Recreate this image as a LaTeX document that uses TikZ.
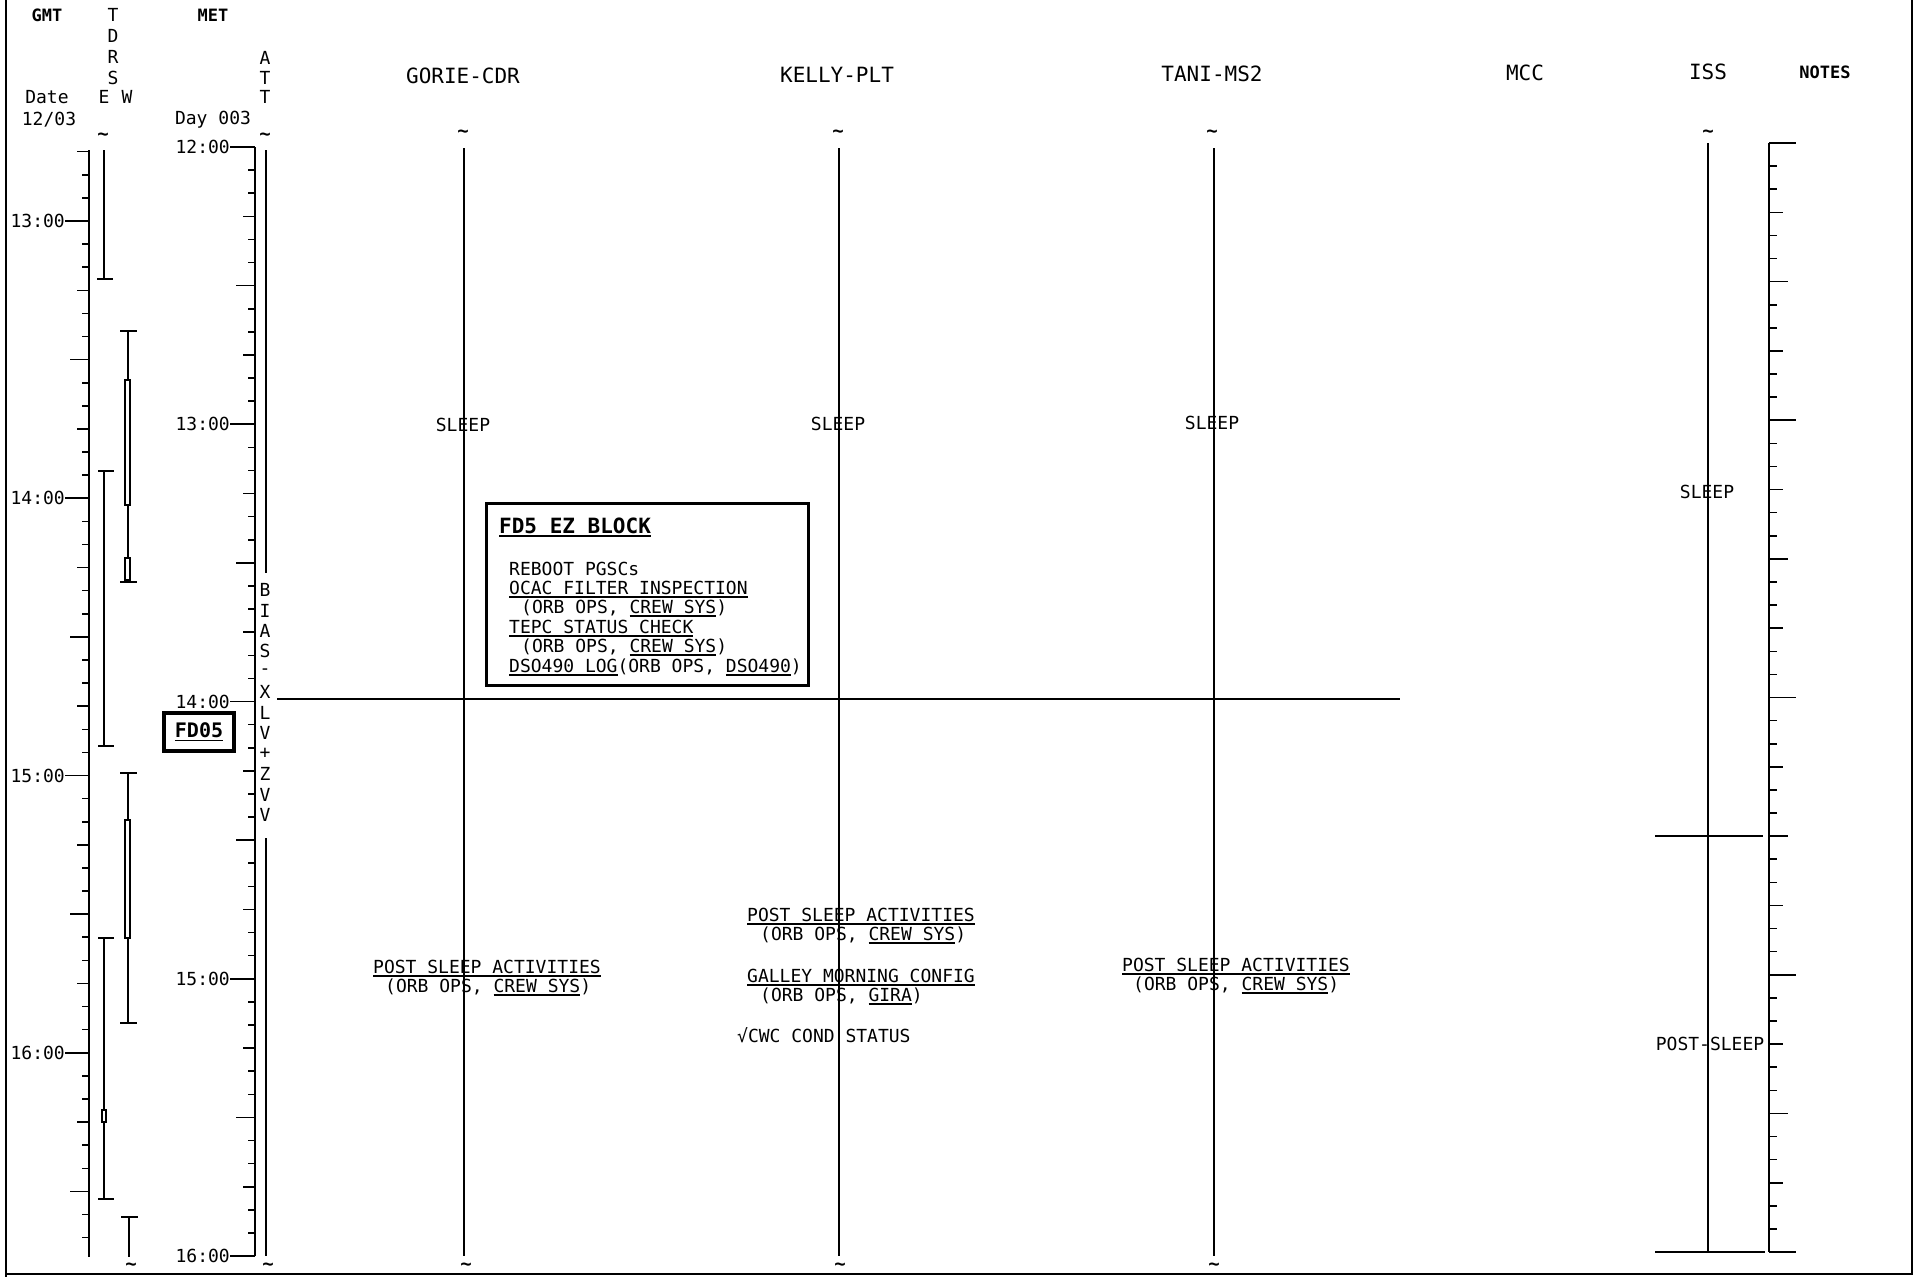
\documentclass[tikz,border=0pt]{standalone}
\usepackage{fontspec}
\setmainfont{DejaVu Sans Mono}
\newcommand\ulbar[1]{\leavevmode\setbox0=\hbox{#1}\rlap{\vrule width\wd0 height -2.2pt depth 4pt}\box0}
\begin{document}
\begin{tikzpicture}[x=1pt,y=-1pt,line cap=butt,line join=miter,
  txt/.style={inner sep=0pt,font=\fontsize{18}{19}\selectfont},
  txtl/.style={txt,anchor=base west},
  crewhd/.style={inner sep=0pt,font=\fontsize{21}{22}\selectfont},
  boldhd/.style={inner sep=0pt,font=\bfseries\fontsize{17}{18}\selectfont},
  tilde/.style={inner sep=0pt,font=\bfseries\fontsize{19}{19}\selectfont},
  axisline/.style={ink,line width=2.4pt},
  tickline/.style={ink,line width=1.6pt},
  crewline/.style={ink,line width=2pt},
  barline/.style={ink,line width=1.8pt}]

\definecolor{ink}{RGB}{0,0,0}

\path[use as bounding box] (0,0) rectangle (1915,1277);

% frame
\draw[ink,line width=2.5pt] (6,0) -- (6,1277);
\draw[ink,line width=2.5pt] (1912,0) -- (1912,1274) -- (6,1274);

% headers
\node[boldhd] (gmt) at (47,15) {GMT};
\node[boldhd] (met) at (213,15) {MET};
\node[boldhd] (notes) at (1825,72) {NOTES};
\node[txt] (date) at (47,97) {Date};
\node[txt] (dateval) at (49,120) {12/03};
\node[txt] (metday) at (213,120) {Day 003};
\foreach \c [count=\i] in {T,D,R,S} \node[txt] (tdrs\i) at (113,{15+21*(\i-1)}) {\c};
\node[txt] (tdrsE) at (104,97) {E};
\node[txt] (tdrsW) at (127,97) {W};
\foreach \c [count=\i] in {A,T,T} \node[txt] (att\i) at (265,{58+19.5*(\i-1)}) {\c};
\node[crewhd] (gorie) at (463,76) {GORIE-CDR};
\node[crewhd] (kelly) at (837,75) {KELLY-PLT};
\node[crewhd] (tani) at (1212,74) {TANI-MS2};
\node[crewhd] (mcc) at (1525,73) {MCC};
\node[crewhd] (iss) at (1708,72) {ISS};

% tildes
\foreach \x/\y [count=\i] in {103/137,265/137,463/134,838/134,1212/134,1708/134,
  131/1267,268/1267,466/1267,840/1267,1214/1267}
  \node[tilde] (tl\i) at (\x,\y) {\textasciitilde};

% GMT scale
\draw[axisline] (89,150) -- (89,1257);
\foreach \m in {-15,-10,...,220} \draw[tickline] (89,{221+4.621*\m}) -- +(-7,0);
\foreach \m in {-15,15,45,75,105,135,165,195} \draw[tickline] (89,{221+4.621*\m}) -- +(-12,0);
\foreach \m in {30,90,150,210} \draw[tickline] (89,{221+4.621*\m}) -- +(-19,0);
\foreach \h [count=\i from 0] in {13,14,15,16} {
  \draw[tickline] (89,{221+277.25*\i}) -- (65,{221+277.25*\i});
  \node[txt,anchor=east] (gmt\h) at (65,{221+277.25*\i}) {\h:00};
}

% TDRS coverage
\draw[barline] (104,150) -- (104,279) (97,279) -- (113,279);
\foreach \ya/\yb in {471/746,938/1199}
  \draw[barline] (104,\ya) -- (104,\yb) (98,\ya) -- (114,\ya) (98,\yb) -- (114,\yb);
\draw[barline,fill=white,line width=1.2pt] (102,1110) rectangle (106,1122);
\foreach \ya/\yb in {331/582,773/1023}
  \draw[barline] (128,\ya) -- (128,\yb) (120,\ya) -- (137,\ya) (120,\yb) -- (137,\yb);
\draw[barline] (129,1217) -- (129,1257) (121,1217) -- (138,1217);
\foreach \ya/\yb in {380/505,558/580,820/938}
  \draw[barline,fill=white,line width=1.2pt] (125,\ya) rectangle (130,\yb);

% MET scale
\draw[axisline] (255,147) -- (255,1256);
\foreach \m in {0,5,...,240} \draw[tickline] (255,{147+4.621*\m}) -- +(-7,0);
\foreach \m in {15,45,...,225} \draw[tickline] (255,{147+4.621*\m}) -- +(-12,0);
\foreach \m in {30,90,150,210} \draw[tickline] (255,{147+4.621*\m}) -- +(-19,0);
\foreach \h [count=\i from 0] in {12,13,14,15,16} {
  \draw[tickline] (255,{147+277.25*\i}) -- (230,{147+277.25*\i});
  \node[txt,anchor=east] (met\h) at (230,{147+277.25*\i}) {\h:00};
}

% attitude
\draw[crewline] (266,150) -- (266,573);
\draw[crewline] (266,838) -- (266,1256);
\foreach \c [count=\i] in {B,I,A,S,-,X,L,V,+,Z,V,V}
  \node[txt] (bias\i) at (265,{590+20.45*(\i-1)}) {\c};
\node[draw,ink,line width=4pt,inner sep=5pt,font=\bfseries\fontsize{20}{20}\selectfont,
  minimum width=70pt,minimum height=38pt] (fd05) at (199,732) {\ulbar{FD05}};

% crew timelines
\foreach \x in {464,839,1214} \draw[crewline] (\x,148) -- (\x,1256);
\draw[crewline] (277,699) -- (1400,699);
\node[txt] (gsleep) at (463,425) {SLEEP};
\node[txt] (ksleep) at (838,424) {SLEEP};
\node[txt] (tsleep) at (1212,423) {SLEEP};

% EZ block
\draw[ink,line width=3pt,fill=white] (486,503) rectangle (808,685);
\node[txtl,font=\bfseries\fontsize{21}{22}\selectfont] (ezhd) at (499,533) {\ulbar{FD5 EZ BLOCK}};
\node[txtl] (ez1) at (509,575) {REBOOT PGSCs};
\node[txtl] (ez2) at (509,594) {\ulbar{OCAC FILTER INSPECTION}};
\node[txtl] (ez3) at (521,613) {(ORB OPS, \ulbar{CREW SYS})};
\node[txtl] (ez4) at (509,633) {\ulbar{TEPC STATUS CHECK}};
\node[txtl] (ez5) at (521,652) {(ORB OPS, \ulbar{CREW SYS})};
\node[txtl] (ez6) at (509,672) {\ulbar{DSO490 LOG}(ORB OPS, \ulbar{DSO490})};

% post sleep
\node[txtl] (gpost) at (373,973) {\ulbar{POST SLEEP ACTIVITIES}};
\node[txtl] (gpostx) at (385,992) {(ORB OPS, \ulbar{CREW SYS})};
\node[txtl] (kpost) at (747,921) {\ulbar{POST SLEEP ACTIVITIES}};
\node[txtl] (kpostx) at (760,940) {(ORB OPS, \ulbar{CREW SYS})};
\node[txtl] (kgal) at (747,982) {\ulbar{GALLEY MORNING CONFIG}};
\node[txtl] (kgalx) at (760,1001) {(ORB OPS, \ulbar{GIRA})};
\node[txtl] (kcwc) at (737,1042) {√CWC COND STATUS};
\node[txtl] (tpost) at (1122,971) {\ulbar{POST SLEEP ACTIVITIES}};
\node[txtl] (tpostx) at (1133,990) {(ORB OPS, \ulbar{CREW SYS})};

% ISS
\draw[crewline] (1708,143) -- (1708,1252);
\draw[crewline] (1655,836) -- (1763,836);
\draw[crewline] (1655,1252) -- (1765,1252);
\node[txt] (isssleep) at (1707,492) {SLEEP};
\node[txt] (isspost) at (1710,1044) {POST-SLEEP};

% notes scale
\draw[axisline] (1769,143) -- (1769,1252);
\foreach \m in {0,5,...,240} \draw[tickline] (1769,{143+4.621*\m}) -- +(8,0);
\foreach \m in {15,45,...,225} \draw[tickline] (1769,{143+4.621*\m}) -- +(14,0);
\foreach \m in {30,90,150,210} \draw[tickline] (1769,{143+4.621*\m}) -- +(19,0);
\foreach \m in {0,60,...,240} \draw[tickline] (1769,{143+4.621*\m}) -- +(27,0);

\end{tikzpicture}
\end{document}
